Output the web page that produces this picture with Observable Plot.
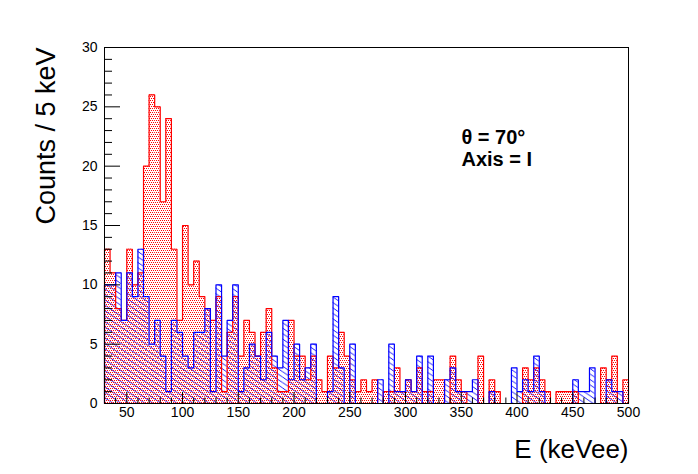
<!DOCTYPE html>
<html>
<head>
<meta charset="utf-8">
<script src="https://cdn.jsdelivr.net/npm/d3@7"></script>
<script src="https://cdn.jsdelivr.net/npm/@observablehq/plot@0.6"></script>
<style>
  html, body { margin: 0; padding: 0; background: white; }
  #chart { width: 698px; height: 474px; }
</style>
</head>
<body>
<div id="chart"></div>
<script>
// Histogram binning: 5 keV bins from 30 to 500 keV
const binStart = 30;
const binWidth = 5;
const xMin = 30, xMax = 500;
const yMin = 0, yMax = 30;

// Red (dotted) histogram counts per bin
const redCounts = [
  13, 11, 8, 7, 13, 10, 11, 20, 26, 25,
  17, 24, 13, 7, 15, 10, 12, 9, 8, 7,
  9, 1, 6, 9, 4, 7, 6, 4, 6, 8,
  3, 1, 1, 7, 4, 4, 2, 4, 2, 1,
  4, 3, 6, 4, 2, 1, 2, 1, 2, 0,
  1, 1, 3, 1, 2, 1, 3, 1, 1, 2,
  2, 0, 4, 2, 1, 0, 0, 4, 0, 2,
  1, 0, 0, 0, 0, 3, 2, 3, 2, 1,
  0, 1, 1, 1, 1, 0, 0, 0, 0, 3,
  2, 4, 0, 2
];

// Blue (hatched) histogram counts per bin
const blueCounts = [
  10, 10, 11, 7, 11, 9, 13, 9, 5, 7,
  4, 1, 7, 6, 4, 3, 6, 6, 8, 1,
  10, 4, 7, 10, 1, 3, 5, 4, 2, 6,
  4, 3, 7, 2, 5, 2, 3, 5, 0, 0,
  1, 9, 3, 0, 5, 0, 0, 0, 0, 2,
  0, 5, 1, 1, 2, 1, 4, 0, 4, 0,
  0, 2, 3, 1, 1, 1, 2, 0, 0, 1,
  0, 0, 0, 3, 1, 2, 1, 4, 1, 0,
  0, 0, 0, 0, 2, 1, 1, 3, 0, 0,
  2, 1, 1, 0
];

// Axis ticks
const xTickLabels = [50, 100, 150, 200, 250, 300, 350, 400, 450, 500];
const xMinorTicks = [40, 60, 70, 80, 90, 110, 120, 130, 140, 160, 170, 180, 190, 210, 220, 230, 240, 260, 270, 280, 290, 310, 320, 330, 340, 360, 370, 380, 390, 410, 420, 430, 440, 460, 470, 480, 490];
const yTickLabels = [0, 5, 10, 15, 20, 25, 30];
const yMinorTicks = [1, 2, 3, 4, 6, 7, 8, 9, 11, 12, 13, 14, 16, 17, 18, 19, 21, 22, 23, 24, 26, 27, 28, 29];

// Texts
const yTitle = "Counts / 5 keV";
const xTitle = "E (keVee)";
const noteLines = ["θ = 70°", "Axis = I"];

// Build bar tables and step outlines from the arrays
function bars(counts) {
  return counts.map((v, i) => ({x1: binStart + i * binWidth, x2: binStart + (i + 1) * binWidth, y: v}));
}
function outline(counts) {
  const pts = [{x: binStart, y: 0}];
  counts.forEach((v, i) => {
    pts.push({x: binStart + i * binWidth, y: v});
    pts.push({x: binStart + (i + 1) * binWidth, y: v});
  });
  pts.push({x: binStart + counts.length * binWidth, y: 0});
  return pts;
}

const W = 698, H = 474;
const mL = 104, mR = 70, mT = 47, mB = 71;
const kx = (xMax - xMin) / (W - mL - mR);   // keV per pixel
const ky = (yMax - yMin) / (H - mT - mB);   // counts per pixel

const plot = Plot.plot({
  width: W,
  height: H,
  marginLeft: mL,
  marginRight: mR,
  marginTop: mT,
  marginBottom: mB,
  style: {fontFamily: "'Liberation Sans', Arial, Helvetica, sans-serif", fontSize: "14px", background: "white", color: "black"},
  x: {domain: [xMin, xMax]},
  y: {domain: [yMin, yMax]},
  marks: [
    Plot.rectY(bars(blueCounts), {x1: "x1", x2: "x2", y: "y", fill: "url(#bluehatch)", inset: 0}),
    Plot.rectY(bars(redCounts), {x1: "x1", x2: "x2", y: "y", fill: "url(#reddots)", inset: 0}),
    Plot.line(outline(redCounts), {x: "x", y: "y", stroke: "#ff0000", strokeWidth: 1.2}),
    Plot.line(outline(blueCounts), {x: "x", y: "y", stroke: "#0000ff", strokeWidth: 1.2}),
    // ticks (ROOT style, inward)
    Plot.ruleY(yTickLabels, {x1: xMin, x2: xMin + 16 * kx, stroke: "black"}),
    Plot.ruleY(yMinorTicks, {x1: xMin, x2: xMin + 8 * kx, stroke: "black"}),
    Plot.ruleX(xTickLabels, {y1: yMin, y2: yMin + 11 * ky, stroke: "black"}),
    Plot.ruleX(xMinorTicks, {y1: yMin, y2: yMin + 5.5 * ky, stroke: "black"}),
    Plot.axisY({ticks: yTickLabels, tickSize: 0, tickPadding: 7, label: null, fontSize: 14}),
    Plot.axisX({ticks: xTickLabels, tickSize: 0, tickPadding: 4, label: null, fontSize: 14}),
    Plot.frame({stroke: "black"}),
    Plot.text([yTitle], {text: d => d, frameAnchor: "top-left", rotate: -90, textAnchor: "end", lineAnchor: "bottom", dx: -50, dy: 0, fontSize: 27, fill: "black"}),
    Plot.text([xTitle], {text: d => d, frameAnchor: "bottom-right", textAnchor: "end", lineAnchor: "bottom", dx: 0, dy: 54, fontSize: 26, fill: "black"}),
    Plot.text([noteLines[0]], {text: d => d, frameAnchor: "top-left", textAnchor: "start", lineAnchor: "bottom", dx: 357, dy: 96, fontSize: 20, fontWeight: "bold", fill: "black"}),
    Plot.text([noteLines[1]], {text: d => d, frameAnchor: "top-left", textAnchor: "start", lineAnchor: "bottom", dx: 357, dy: 118, fontSize: 20, fontWeight: "bold", fill: "black"})
  ]
});

const defs = `
<defs>
  <pattern id="reddots" patternUnits="userSpaceOnUse" width="2" height="4">
    <rect x="0" y="0" width="1" height="1" fill="#ff0000" shape-rendering="crispEdges"/>
    <rect x="1" y="2" width="1" height="1" fill="#ff0000" shape-rendering="crispEdges"/>
  </pattern>
  <pattern id="bluehatch" patternUnits="userSpaceOnUse" width="8" height="5.44">
    <path d="M-1,-0.68 L9,6.12 M-9,-0.68 L1,6.12 M7,-0.68 L17,6.12" stroke="#0000ff" stroke-width="0.9" fill="none"/>
  </pattern>
</defs>`;
plot.insertAdjacentHTML("afterbegin", defs);
document.getElementById("chart").appendChild(plot);
</script>
</body>
</html>
